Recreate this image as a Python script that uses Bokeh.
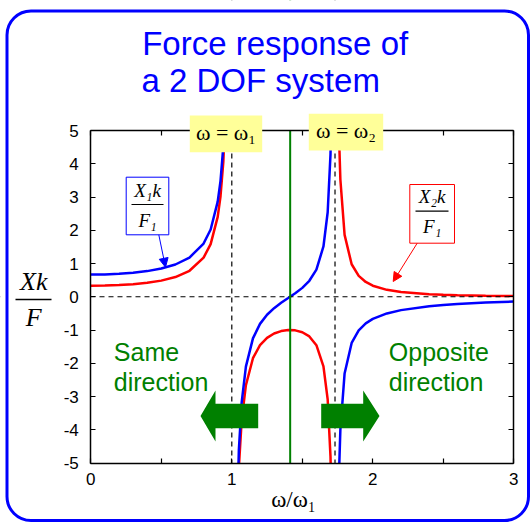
from bokeh.plotting import figure
from bokeh.models import (Range1d, FixedTicker, LinearAxis, Span, Label, BoxAnnotation,
                          Arrow, NormalHead, PolyAnnotation)
from bokeh.embed import file_html
from bokeh.resources import INLINE

# ---------------- data ----------------
# frequency ratio omega/omega1 for the three branches
omega_b1 = [0.0, 0.1, 0.2, 0.3, 0.4, 0.5, 0.6, 0.7, 0.8, 0.85, 0.9, 0.92, 0.94, 0.96]
x1k_b1 = [0.667, 0.672, 0.690, 0.721, 0.771, 0.848, 0.970, 1.180, 1.601, 2.021, 2.860, 3.487, 4.532, 6.62]
x2k_b1 = [0.333, 0.338, 0.352, 0.378, 0.419, 0.485, 0.592, 0.781, 1.177, 1.582, 2.403, 3.023, 4.060, 6.14]

omega_b2 = [1.03, 1.05, 1.07, 1.1, 1.15, 1.2, 1.25, 1.3, 1.35, 1.4, 1.45, 1.5, 1.55, 1.6, 1.65, 1.68, 1.7, 1.71]
x1k_b2 = [-7.95, -4.614, -3.181, -2.102, -1.252, -0.816, -0.541, -0.343, -0.183, -0.040, 0.104, 0.267,
          0.480, 0.816, 1.512, 2.541, 4.281, 6.33]
x2k_b2 = [-8.47, -5.141, -3.720, -2.660, -1.848, -1.457, -1.237, -1.106, -1.033, -1.002, -1.011, -1.067,
          -1.193, -1.457, -2.092, -3.089, -4.810, -6.85]

omega_b3 = [1.75, 1.76, 1.77, 1.8, 1.85, 1.9, 1.95, 2.0, 2.1, 2.2, 2.4, 2.5, 2.6, 2.8, 3.0]
x1k_b3 = [-8.24, -5.36, -3.996, -2.307, -1.390, -1.011, -0.801, -0.667, -0.501, -0.402, -0.286, -0.249,
          -0.220, -0.176, -0.146]
x2k_b3 = [7.76, 4.885, 3.527, 1.860, 0.977, 0.628, 0.445, 0.333, 0.208, 0.142, 0.076, 0.0586,
          0.046, 0.030, 0.021]

natural_freqs = [1.0, 1.732]
antiresonance = 1.414

x_lim = (0, 3)
y_lim = (-5, 5)
x_major_ticks = [0, 1, 2, 3]
x_minor_ticks = [0.5, 1.5, 2.5]
y_ticks = [-5, -4, -3, -2, -1, 0, 1, 2, 3, 4, 5]
y_tick_labels = {-5: "-5", -4: "-4", -3: "-3", -2: "-2", -1: "-1"}

# ---------------- styles / layout ----------------
BLUE = "#0000FF"
RED = "#FF0000"
GREEN = "#008000"
YELLOW = "#FFFF99"
SANS = "Liberation Sans"
SERIF = "Liberation Serif"

W, H = 531, 523
# pixel placement of the plot box inside the canvas
X0_PX, PX_PER_X = 90.3, 141.0        # px of omega=0, px per unit
Y0_PY, PX_PER_Y = 296.25, 33.25      # py of value 0, px per unit


def X(px):
    return (px - X0_PX) / PX_PER_X


def Y(py):
    return (Y0_PY - py) / PX_PER_Y


p = figure(width=W, height=H, output_backend="svg", toolbar_location=None,
           x_range=Range1d(X(0), X(W)), y_range=Range1d(Y(H), Y(0)), min_border=0,
           x_axis_type=None, y_axis_type=None)
p.title.visible = False
p.xgrid.visible = False
p.ygrid.visible = False
p.outline_line_color = None
p.background_fill_color = "white"
p.border_fill_color = "white"

# labelled axes (bottom, left) and mirror axes with ticks only (top, right)
xt = FixedTicker(ticks=x_major_ticks, minor_ticks=x_minor_ticks)
yt = FixedTicker(ticks=y_ticks, minor_ticks=[])
xt_mirror = FixedTicker(ticks=[], minor_ticks=x_major_ticks + x_minor_ticks)
yt_mirror = FixedTicker(ticks=[], minor_ticks=y_ticks)


def make_axis(ticker, loc, bounds, standoff):
    ax = LinearAxis(ticker=ticker, fixed_location=loc, bounds=bounds)
    ax.axis_line_color = "black"
    ax.axis_line_width = 1.5
    ax.major_tick_in = 5
    ax.major_tick_out = 0
    ax.minor_tick_in = 5
    ax.minor_tick_out = 0
    ax.major_tick_line_width = 1.2
    ax.minor_tick_line_width = 1.2
    ax.major_tick_line_color = "black"
    ax.minor_tick_line_color = "black"
    ax.major_label_text_font = SANS
    ax.major_label_text_font_size = "17px"
    ax.major_label_text_color = "black"
    ax.major_label_standoff = standoff
    return ax


bottom_ax = make_axis(xt, y_lim[0], x_lim, 10)
left_ax = make_axis(yt, x_lim[0], y_lim, 12)
left_ax.major_label_overrides = y_tick_labels
top_ax = make_axis(xt_mirror, y_lim[1], x_lim, 0)
right_ax = make_axis(yt_mirror, x_lim[1], y_lim, 0)
p.add_layout(bottom_ax, "below")
p.add_layout(left_ax, "left")
p.add_layout(top_ax, "above")
p.add_layout(right_ax, "right")

# reference lines (drawn first, then masked outside the plot box)
p.add_layout(Span(location=0, dimension="width", line_color="black", line_width=1.2,
                  line_dash="5 4", level="image"))
for f in natural_freqs:
    p.add_layout(Span(location=f, dimension="height", line_color="black", line_width=1.2,
                      line_dash="5 4", level="image"))
p.add_layout(Span(location=antiresonance, dimension="height", line_color=GREEN, line_width=2,
                  level="image"))

# curves
for om, x1, x2 in [(omega_b1, x1k_b1, x2k_b1), (omega_b2, x1k_b2, x2k_b2), (omega_b3, x1k_b3, x2k_b3)]:
    p.line(om, x2, line_color=RED, line_width=2.5, level="image")
    p.line(om, x1, line_color=BLUE, line_width=2.5, level="image")

# white masks outside the plot box (clip the curves to the axes limits)
for kw in [dict(bottom=y_lim[1]), dict(top=y_lim[0]), dict(right=x_lim[0]), dict(left=x_lim[1])]:
    p.add_layout(BoxAnnotation(fill_color="white", fill_alpha=1, line_color=None,
                               level="underlay", **kw))


# green direction arrows
def arrow_shape(tip, head_base, tail):
    xs = [X(tip), X(head_base), X(head_base), X(tail), X(tail), X(head_base), X(head_base)]
    ys = [Y(415.5), Y(390), Y(403.3), Y(403.3), Y(427.7), Y(427.7), Y(441)]
    return xs, ys


for tip, hb, tail in [(200, 215, 257.7), (379, 362.7, 320.7)]:
    xs, ys = arrow_shape(tip, hb, tail)
    p.add_layout(PolyAnnotation(xs=xs, ys=ys, fill_color=GREEN, fill_alpha=1, line_color=None))


def text(px, py, txt, font, size, color="black", align="center", style="normal"):
    p.add_layout(Label(x=X(px), y=Y(py), text=txt, text_font=font, text_font_size=size,
                       text_color=color, text_align=align, text_baseline="middle",
                       text_font_style=style))


# direction texts
for px, txt, py in [(113.3, "Same", 351.7), (113.3, "direction", 381.2),
                    (388.3, "Opposite", 351.7), (388.3, "direction", 381.2)]:
    text(px, py, txt, SANS, "25px", GREEN, "left")


# callout boxes with fractions
def fraction_callout(box, num, den, c_num, c_den, bar, color, a_start, a_end):
    l, r, t, b = box
    p.add_layout(BoxAnnotation(left=X(l), right=X(r), top=Y(t), bottom=Y(b),
                               fill_color="white", fill_alpha=1, line_color=color,
                               line_alpha=1, line_width=1))
    xc = (l + r) / 2
    text(xc, c_num, num, SERIF, "19px", style="italic")
    text(xc, c_den, den, SERIF, "19px", style="italic")
    p.add_layout(Arrow(end=None, x_start=X(bar[0]), x_end=X(bar[1]), y_start=Y(bar[2]),
                       y_end=Y(bar[2]), line_color="black", line_width=1.2))
    p.add_layout(Arrow(end=NormalHead(size=9, fill_color=color, line_color=color),
                       x_start=X(a_start[0]), y_start=Y(a_start[1]),
                       x_end=X(a_end[0]), y_end=Y(a_end[1]), line_color=color, line_width=1))


fraction_callout((125.7, 168.3, 176.7, 234.3), "X₁k", "F₁", 189.5, 219.7, (131, 163, 204), BLUE,
                 (158.3, 234.3), (165, 266.7))
fraction_callout((409.3, 454, 184, 242.7), "X₂k", "F₁", 196.2, 226.4, (415, 448, 210.7), RED,
                 (416.7, 242.7), (392.7, 281))

# yellow resonance labels
for (l, r, t, b), cy, txt in [((189.3, 261.7, 115, 151.7), 131.5, "ω = ω₁"),
                              ((308.3, 382.7, 113.3, 150), 130.0, "ω = ω₂")]:
    p.add_layout(BoxAnnotation(left=X(l), right=X(r), top=Y(t), bottom=Y(b), fill_color=YELLOW,
                               fill_alpha=1, line_color=None))
    text((l + r) / 2, cy, txt, SERIF, "22px")

# y axis label as a fraction
text(33.3, 281, "Xk", SERIF, "26px", style="italic")
text(33.3, 317, "F", SERIF, "26px", style="italic")
p.add_layout(Arrow(end=None, x_start=X(15), x_end=X(51), y_start=Y(299), y_end=Y(299),
                   line_color="black", line_width=1.5))

# x axis label
text(293, 499, "ω/ω₁", SERIF, "23px")

# title
text(141.7, 43, "Force response of", SANS, "33px", BLUE, "left")
text(141, 79.5, "a 2 DOF system", SANS, "33px", BLUE, "left")

# rounded outer border
p.add_layout(BoxAnnotation(left=X(6.5), right=X(528), top=Y(10.5), bottom=Y(520),
                           fill_color=None, fill_alpha=0, line_color=BLUE, line_alpha=1,
                           line_width=3, border_radius=24))

open("out.html", "w").write(file_html(p, INLINE))
